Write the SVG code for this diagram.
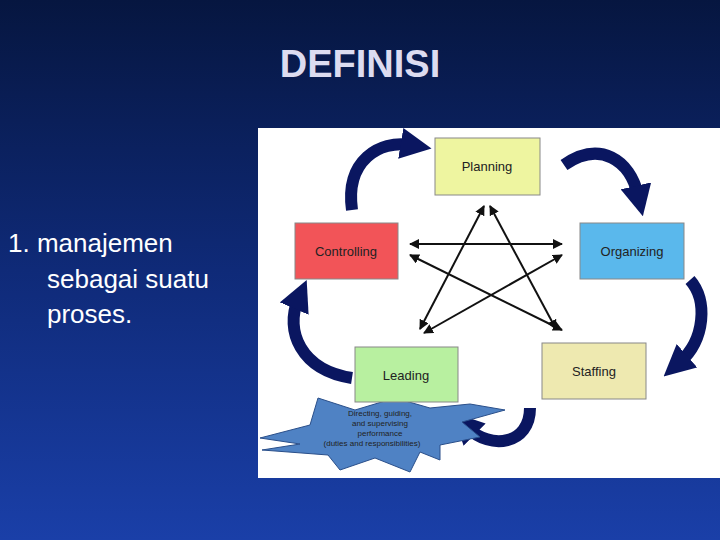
<svg xmlns="http://www.w3.org/2000/svg" width="720" height="540" viewBox="0 0 720 540">
<defs>
<linearGradient id="bg" x1="0" y1="0" x2="0" y2="1"><stop offset="0" stop-color="#061640"/><stop offset="0.5" stop-color="#0f2a78"/><stop offset="1" stop-color="#1a3fa8"/></linearGradient>
<marker id="ah" viewBox="0 0 10 10" refX="9" refY="5" markerWidth="5" markerHeight="5" orient="auto-start-reverse"><path d="M0,0L10,5L0,10z" fill="#111"/></marker>
<marker id="big" viewBox="0 0 10 10" refX="3" refY="5" markerWidth="2.6" markerHeight="2.6" orient="auto"><path d="M0,0L10,5L0,10z" fill="#0a1660"/></marker>
<style>
.box{stroke:#888;stroke-width:1}
.lbl{font-family:"Liberation Sans",Arial,sans-serif;font-size:13px;text-anchor:middle;fill:#222}
.ln{stroke:#111;stroke-width:2;fill:none;marker-start:url(#ah);marker-end:url(#ah)}
.cv{stroke:#0a1660;stroke-width:12;fill:none;marker-end:url(#big)}
.t{font-family:"Liberation Sans",Arial,sans-serif;font-size:26px;fill:#fff}
</style>
</defs>
<rect width="720" height="540" fill="url(#bg)"/>
<text x="360" y="77" text-anchor="middle" font-family="Liberation Sans,Arial,sans-serif" font-weight="bold" font-size="38" fill="#dcdcf0">DEFINISI</text>
<text class="t" x="8" y="252">1. manajemen</text>
<text class="t" x="47" y="288">sebagai suatu</text>
<text class="t" x="47" y="323">proses.</text>
<rect x="258" y="128" width="462" height="350" fill="#fff"/>
<g id="connectors">
<line class="ln" x1="410" y1="244" x2="562" y2="244"/>
<line class="ln" x1="410" y1="255" x2="562" y2="330"/>
<line class="ln" x1="562" y1="255" x2="424" y2="333"/>
<line class="ln" x1="484" y1="206" x2="420" y2="329"/>
<line class="ln" x1="490" y1="206" x2="556" y2="329"/>
<path class="cv" d="M352,210 C345,160 380,140 410,145"/>
<path class="cv" d="M564,165 C600,140 630,160 638,195"/>
<path class="cv" d="M690,280 C708,300 705,340 680,362"/>
<path class="cv" d="M530,408 C530,445 490,450 468,428"/>
<path class="cv" d="M352,378 C300,370 285,330 298,300"/>
</g>
<g id="burst"><polygon points="260,438 310,425 318,398 355,410 395,398 430,408 470,404 505,410 462,422 480,437 440,445 440,460 420,452 410,472 375,458 340,470 328,455 262,450 300,444" fill="#4f82c4" stroke="#2a4f8a"/>
<text class="lbl" font-size="8" x="380" y="416" style="font-size:8px">Directing, guiding,</text>
<text class="lbl" x="380" y="426" style="font-size:8px">and supervising</text>
<text class="lbl" x="380" y="436" style="font-size:8px">performance</text>
<text class="lbl" x="372" y="446" style="font-size:8px">(duties and responsibilities)</text></g>
<g id="planning"><rect class="box" x="435" y="138" width="105" height="57" fill="#eef5a0"/><text class="lbl" x="487" y="171">Planning</text></g>
<g id="controlling"><rect class="box" x="295" y="223" width="103" height="56" fill="#f25458"/><text class="lbl" x="346" y="256">Controlling</text></g>
<g id="organizing"><rect class="box" x="580" y="223" width="104" height="56" fill="#5ab8ec"/><text class="lbl" x="632" y="256">Organizing</text></g>
<g id="staffing"><rect class="box" x="542" y="343" width="104" height="56" fill="#eee9b0"/><text class="lbl" x="594" y="376">Staffing</text></g>
<g id="leading"><rect class="box" x="355" y="347" width="103" height="55" fill="#b8f0a0"/><text class="lbl" x="406" y="380">Leading</text></g>
</svg>
